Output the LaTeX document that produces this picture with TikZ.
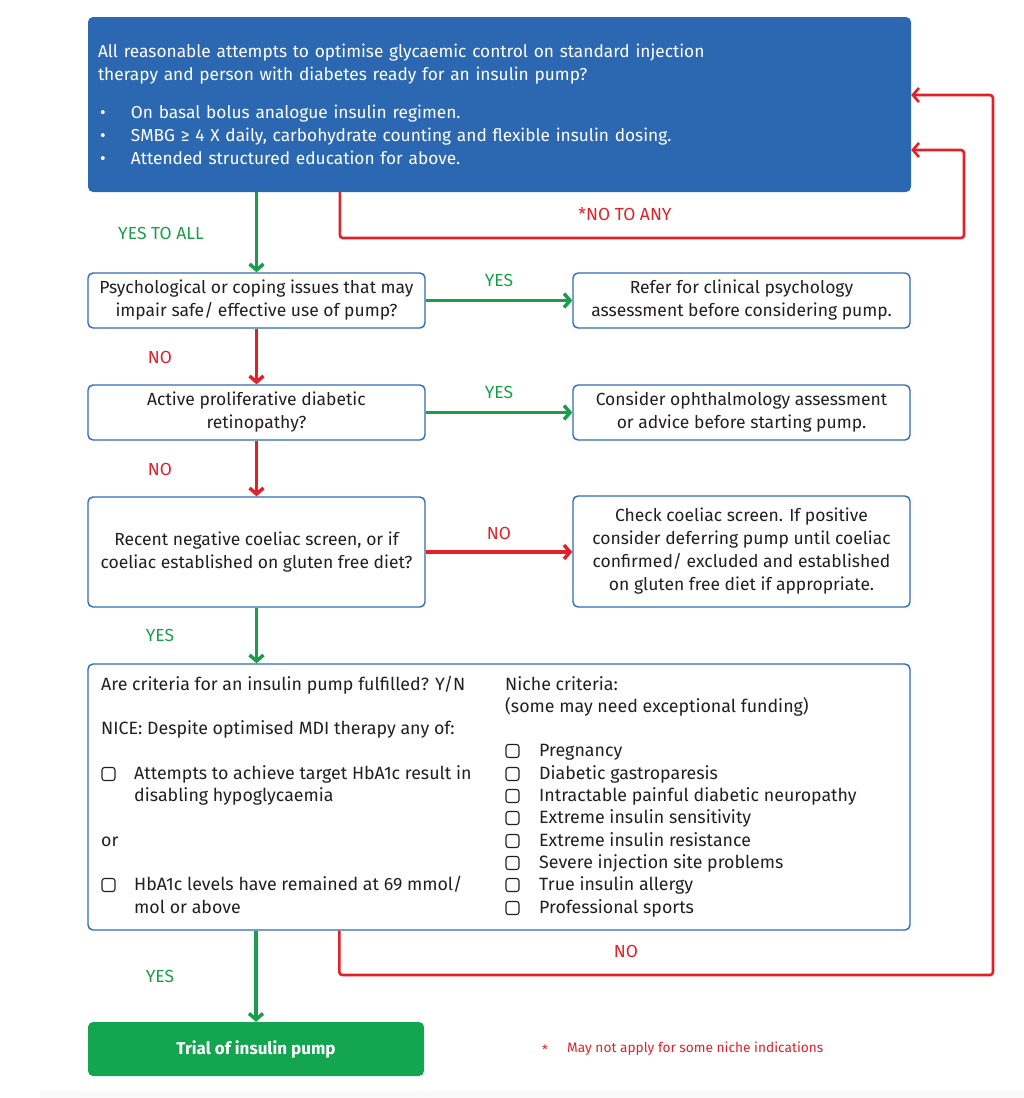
\documentclass[tikz,border=0pt]{standalone}
\usepackage{fontspec}
\setmainfont{Fira Sans}
\newfontfamily\condf{Fira Sans}
\newfontfamily\regf{Fira Sans}
\usetikzlibrary{arrows.meta}
\definecolor{bfill}{HTML}{2C68B2}
\definecolor{bline}{HTML}{2F6CB3}
\definecolor{gline}{HTML}{1B9E4B}
\definecolor{gfill}{HTML}{13A550}
\definecolor{rline}{HTML}{E2202A}
\definecolor{ink}{HTML}{231F20}
\newcommand\bul{\hspace*{2pt}\makebox[31pt][l]{•}}
\begin{document}
\begin{tikzpicture}[x=1pt,y=-1pt,
  box/.style={draw=bline, line width=1.4pt, rounded corners=5pt, fill=white, text=ink,
    font=\condf\fontsize{17.5}{23}\selectfont, align=center, inner sep=0pt},
  lbl/.style={font=\condf\fontsize{17.5}{18}\selectfont, inner sep=0pt},
  txt/.style={anchor=base west, inner sep=0pt, text=ink, font=\regf\fontsize{17.8}{18}\selectfont},
  garrow/.style={draw=gline, line width=3.5pt, -{Straight Barb[length=6pt,width=14pt]}},
  rarrow/.style={draw=rline, line width=3.5pt, -{Straight Barb[length=6pt,width=14pt]}},
  rloop/.style={draw=rline, line width=2.6pt, rounded corners=3pt, -{Straight Barb[length=6pt,width=14pt]}},
  cbox/.style={draw=ink, line width=1.1pt, rounded corners=2.5pt}
]
\useasboundingbox (0,0) rectangle (1024,1098);
\fill[gray!5] (40,1091) rectangle (1024,1098);

% top box
\node[fill=bfill, rounded corners=5pt, text=white, align=left, inner xsep=10pt, inner ysep=0pt,
  text width=803pt, minimum width=823pt, minimum height=175pt,
  font=\condf\fontsize{17.3}{23}\selectfont] (b1) at (499.5,104.5)
  {All reasonable attempts to optimise glycaemic control on standard injection\\
   therapy and person with diabetes ready for an insulin pump?\\[15pt]
   \bul On basal bolus analogue insulin regimen.\\
   \bul SMBG ≥ 4 X daily, carbohydrate counting and flexible insulin dosing.\\
   \bul Attended structured education for above.};

% question boxes
\node[box, minimum width=337pt, minimum height=55pt] (b2) at (256.5,300.5)
  {Psychological or coping issues that may\\impair safe/ effective use of pump?};
\node[box, minimum width=337pt, minimum height=55pt] (b2r) at (741.5,300.5)
  {Refer for clinical psychology\\assessment before considering pump.};
\node[box, minimum width=337pt, minimum height=55pt] (b3) at (256.5,412.5)
  {Active proliferative diabetic\\retinopathy?};
\node[box, minimum width=337pt, minimum height=55pt] (b3r) at (741.5,412.5)
  {Consider ophthalmology assessment\\or advice before starting pump.};
\node[box, minimum width=337pt, minimum height=110pt] (b4) at (256.5,552)
  {Recent negative coeliac screen, or if\\coeliac established on gluten free diet?};
\node[box, minimum width=337pt, minimum height=111pt] (b4r) at (741.5,551.5)
  {Check coeliac screen. If positive\\consider deferring pump until coeliac\\confirmed/ excluded and established\\on gluten free diet if appropriate.};
\node[box, minimum width=822pt, minimum height=266pt] (b5) at (499,797) {};
\node[fill=gfill, rounded corners=5pt, text=white, minimum width=336pt, minimum height=54pt,
  font=\condf\fontsize{17}{18}\selectfont\bfseries] (b6) at (256,1049) {Trial of insulin pump};

% box 5 contents
\node[txt] (t1) at (101,690) {Are criteria for an insulin pump fulfilled? Y/N};
\node[txt] (t2) at (101,734) {NICE: Despite optimised MDI therapy any of:};
\node[txt] (t3) at (134,779) {Attempts to achieve target HbA1c result in};
\node[txt] (t4) at (134,801) {disabling hypoglycaemia};
\node[txt] (t5) at (101,846) {or};
\node[txt] (t6) at (134,890) {HbA1c levels have remained at 69 mmol/};
\node[txt] (t7) at (134,913) {mol or above};
\node[txt] (n0) at (505,690) {Niche criteria:};
\node[txt] (n1) at (505,712) {(some may need exceptional funding)};
\node[txt] (n2) at (539,756) {Pregnancy};
\node[txt] (n3) at (539,779) {Diabetic gastroparesis};
\node[txt] (n4) at (539,801) {Intractable painful diabetic neuropathy};
\node[txt] (n5) at (539,823) {Extreme insulin sensitivity};
\node[txt] (n6) at (539,846) {Extreme insulin resistance};
\node[txt] (n7) at (539,868) {Severe injection site problems};
\node[txt] (n8) at (539,890) {True insulin allergy};
\node[txt] (n9) at (539,913) {Professional sports};
\foreach \y in {774,885} \draw[cbox] (102,\y-6.5) rectangle (115,\y+6.5);
\foreach \y in {751,774,796,818,841,863,885,908} \draw[cbox] (506,\y-6.5) rectangle (519,\y+6.5);

% connectors
\draw[garrow] (b2.north |- b1.south) -- (b2.north);
\draw[rarrow] (b2) -- (b3);
\draw[rarrow] (b3) -- (b4);
\draw[garrow] (b4.south) -- (b4.south |- b5.north);
\draw[garrow] (b5.south -| b6.north) -- (b6.north);
\draw[garrow] (b2) -- (b2r);
\draw[garrow] (b3) -- (b3r);
\draw[rarrow] (b4.east) -- (b4.east -| b4r.west);
\draw[rloop] ([xshift=252pt]b1.south west) |- (964,238) |- ([yshift=-45.5pt]b1.east);
\draw[rloop] ([xshift=252pt]b5.south west) |- (993,975) |- ([yshift=9.5pt]b1.east);

% labels
\node[lbl, text=gline] (l1) at (161,233) {YES TO ALL};
\node[lbl, text=rline] (l2) at (625,214) {*NO TO ANY};
\node[lbl, text=gline] (l3) at (499,280) {YES};
\node[lbl, text=rline] (l4) at (160,357) {NO};
\node[lbl, text=gline] (l5) at (499,392) {YES};
\node[lbl, text=rline] (l6) at (160,469) {NO};
\node[lbl, text=rline] (l7) at (499,533) {NO};
\node[lbl, text=gline] (l8) at (160,635) {YES};
\node[lbl, text=rline] (l9) at (626,951) {NO};
\node[lbl, text=gline] (l10) at (160,976) {YES};
\node[lbl, text=rline, font=\regf\fontsize{13}{14}\selectfont] (fs) at (545,1050) {*};
\node[lbl, text=rline, anchor=west, font=\condf\fontsize{13.7}{16}\selectfont] (fn) at (567,1049) {May not apply for some niche indications};
\end{tikzpicture}
\end{document}
